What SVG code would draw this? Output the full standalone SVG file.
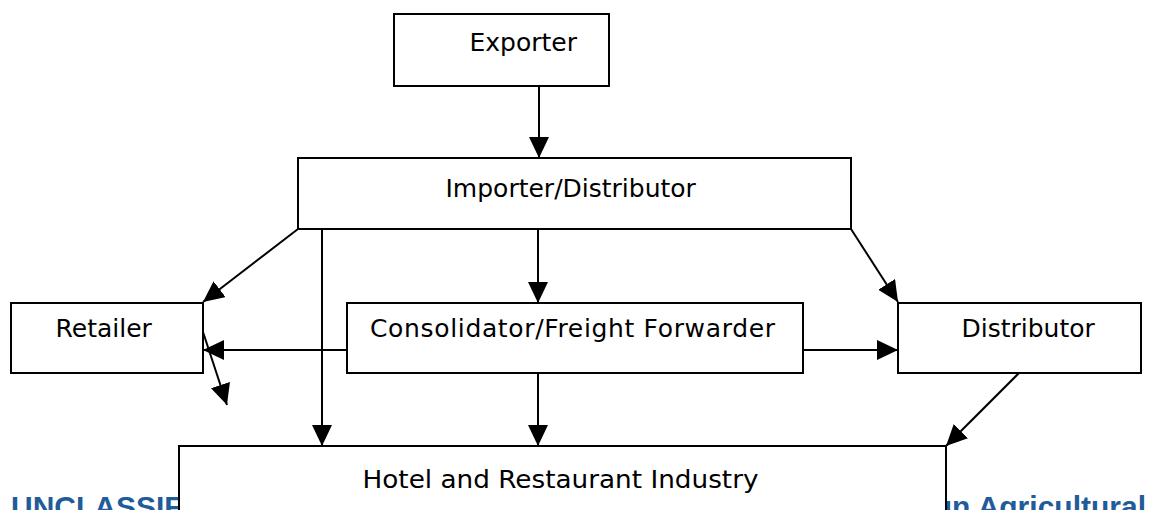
<svg xmlns="http://www.w3.org/2000/svg" width="1151" height="510" viewBox="0 0 1151 510">
  <style>
    .box { fill: #ffffff; stroke: #000000; stroke-width: 2; }
    .lbl { font-family: "DejaVu Sans", Verdana, sans-serif; font-size: 25px; fill: #000000; }
    .edge { stroke: #000000; stroke-width: 2; fill: none; marker-end: url(#arrow); }
    .foot { font-family: "Liberation Sans", Arial, sans-serif; font-size: 30px; font-weight: bold; fill: #1f5c99; }
  </style>
  <defs>
    <marker id="arrow" markerUnits="userSpaceOnUse" markerWidth="21" markerHeight="20" refX="21" refY="10" orient="auto">
      <path d="M0,0 L21,10 L0,20 Z" fill="#000000"/>
    </marker>
  </defs>
  <rect width="1151" height="510" fill="#ffffff"/>

  <g id="footer">
    <text class="foot" x="11" y="517">UNCLASSIFIED</text>
    <text class="foot" x="1146" y="517" text-anchor="end">USDA Foreign Agricultural</text>
  </g>

  <g id="connectors">
    <line class="edge" x1="539" y1="86" x2="539" y2="158"/>
    <line class="edge" x1="298" y1="229" x2="203" y2="302"/>
    <line class="edge" x1="322" y1="229" x2="322" y2="446"/>
    <line class="edge" x1="538" y1="229" x2="538" y2="303"/>
    <line class="edge" x1="851" y1="229" x2="898" y2="302"/>
    <line class="edge" x1="347" y1="350" x2="203" y2="350"/>
    <line class="edge" x1="803" y1="350" x2="898" y2="350"/>
    <line class="edge" x1="203" y1="332" x2="227" y2="405"/>
    <line class="edge" x1="538" y1="373" x2="538" y2="446"/>
    <line class="edge" x1="1019" y1="373" x2="946" y2="446"/>
  </g>

  <g id="exporter">
    <rect class="box" x="394" y="14" width="215" height="72"/>
    <text class="lbl" x="469.5" y="51">Exporter</text>
  </g>
  <g id="importer">
    <rect class="box" x="298" y="158" width="553" height="71"/>
    <text class="lbl" x="445.5" y="197">Importer/Distributor</text>
  </g>
  <g id="retailer">
    <rect class="box" x="11" y="303" width="192" height="70"/>
    <text class="lbl" x="55.5" y="337">Retailer</text>
  </g>
  <g id="consolidator">
    <rect class="box" x="347" y="303" width="456" height="70"/>
    <text class="lbl" x="370" y="337" textLength="405" lengthAdjust="spacing">Consolidator/Freight Forwarder</text>
  </g>
  <g id="distributor">
    <rect class="box" x="898" y="303" width="243" height="70"/>
    <text class="lbl" x="961.5" y="337">Distributor</text>
  </g>
  <g id="hotel">
    <rect class="box" x="179" y="446" width="767" height="100"/>
    <text class="lbl" x="362.5" y="488" textLength="396" lengthAdjust="spacingAndGlyphs">Hotel and Restaurant Industry</text>
  </g>
</svg>
